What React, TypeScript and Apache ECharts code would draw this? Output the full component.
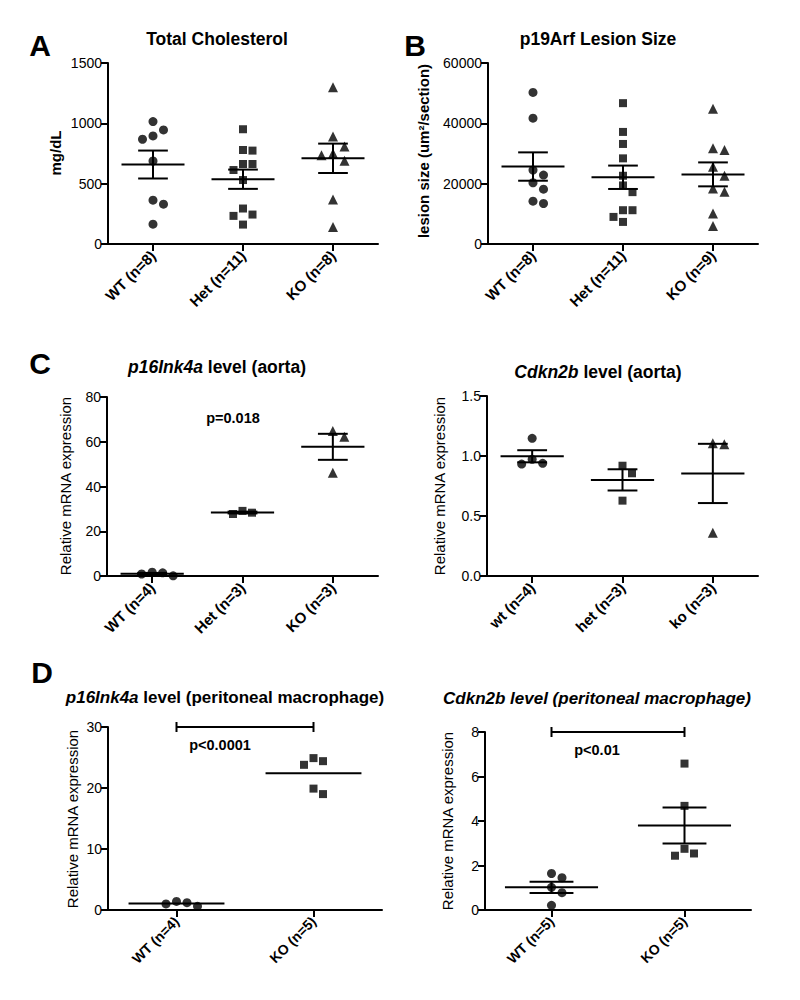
import React, { useEffect, useRef } from "react";
import * as echarts from "echarts";

const FONT = "'Liberation Sans', Arial, Helvetica, sans-serif";

// ---- Panel A: Total Cholesterol (mg/dL)
const catA = ["WT (n=8)", "Het (n=11)", "KO (n=8)"];
const cholWT = [1015, 945, 896, 868, 688, 363, 330, 164];
const cholHet = [951, 774, 779, 663, 663, 613, 530, 294, 244, 233, 161];
const cholKO = [1298, 890, 807, 751, 735, 690, 369, 141];

// ---- Panel B: p19Arf lesion size
const catB = ["WT (n=8)", "Het (n=11)", "KO (n=9)"];
const lesionWT = [50240, 41700, 24510, 22850, 20300, 18190, 14200, 13420];
const lesionHet = [46690, 37150, 33160, 28390, 22620, 19410, 17190, 11200, 11200, 8980, 7320];
const lesionKO = [44800, 31720, 31160, 25620, 22620, 18410, 17300, 10090, 5990];

// ---- Panel C left: p16Ink4a (aorta)
const catC1 = ["WT (n=4)", "Het (n=3)", "KO (n=3)"];
const p16AortaWT = [1.4, 0.1, 0.9, 1.7];
const p16AortaHet = [29.1, 27.7, 28.3];
const p16AortaKO = [64.8, 62.2, 46.2];

// ---- Panel C right: Cdkn2b (aorta)
const catC2 = ["wt (n=4)", "het (n=3)", "ko (n=3)"];
const cdknAortaWT = [1.147, 0.972, 0.933, 0.939];
const cdknAortaHet = [0.919, 0.856, 0.628];
const cdknAortaKO = [1.106, 1.097, 0.361];

// ---- Panel D left: p16Ink4a (peritoneal macrophage)
const catD1 = ["WT (n=4)", "KO (n=5)"];
const p16MacWT = [1.2, 0.6, 1.0, 1.4];
const p16MacKO = [24.4, 23.8, 24.9, 19.0, 19.9];

// ---- Panel D right: Cdkn2b (peritoneal macrophage)
const catD2 = ["WT (n=5)", "KO (n=5)"];
const cdknMacWT = [1.64, 1.45, 1.02, 0.78, 0.21];
const cdknMacKO = [6.58, 4.68, 2.75, 2.44, 2.54];

const SHAPES = ["circle", "rect", "triangle"];
const SIZES = [9, 8, 10];

const mean = (a: number[]) => a.reduce((s, v) => s + v, 0) / a.length;
const sem = (a: number[]) => {
  const m = mean(a);
  const v = a.reduce((s, x) => s + (x - m) * (x - m), 0) / (a.length - 1);
  return Math.sqrt(v) / Math.sqrt(a.length);
};

// simple beeswarm: spreads points whose markers would overlap
function swarm(values: number[], pxPerUnit: number, bandPx: number, size: number) {
  const order = values.map((v, i) => i).sort((a, b) => values[b] - values[a]);
  const placed: { dx: number; y: number }[] = [];
  const offs = new Array(values.length).fill(0);
  const thr = size + 1.5;
  order.forEach((i) => {
    const y = values[i] * pxPerUnit;
    for (let k = 0; k < 20; k++) {
      const step = k === 0 ? 0 : (k % 2 === 1 ? 1 : -1) * Math.ceil(k / 2);
      const dx = step * thr;
      const hit = placed.some((p) => Math.abs(p.dx - dx) < thr && Math.abs(p.y - y) < thr);
      if (!hit) {
        placed.push({ dx, y });
        offs[i] = dx / bandPx;
        break;
      }
    }
  });
  return offs;
}

const panels = [
  { grid: { left: 108, top: 63, width: 270, height: 181 }, cats: catA, groups: [cholWT, cholHet, cholKO], yMax: 1500, yStep: 500, showSem: true, labelSize: 15, fmt: (v: number) => String(v), bracket: false },
  { grid: { left: 488, top: 63, width: 270, height: 181 }, cats: catB, groups: [lesionWT, lesionHet, lesionKO], yMax: 60000, yStep: 20000, showSem: true, labelSize: 15, fmt: (v: number) => String(v), bracket: false },
  { grid: { left: 107, top: 397, width: 271, height: 179 }, cats: catC1, groups: [p16AortaWT, p16AortaHet, p16AortaKO], yMax: 80, yStep: 20, showSem: true, labelSize: 15, fmt: (v: number) => String(v), bracket: false },
  { grid: { left: 487, top: 396, width: 271, height: 180 }, cats: catC2, groups: [cdknAortaWT, cdknAortaHet, cdknAortaKO], yMax: 1.5, yStep: 0.5, showSem: true, labelSize: 15, fmt: (v: number) => v.toFixed(1), bracket: false },
  { grid: { left: 108, top: 727, width: 274, height: 183 }, cats: catD1, groups: [p16MacWT, p16MacKO], yMax: 30, yStep: 10, showSem: false, labelSize: 14, fmt: (v: number) => String(v), bracket: true },
  { grid: { left: 485, top: 732, width: 266, height: 178 }, cats: catD2, groups: [cdknMacWT, cdknMacKO], yMax: 8, yStep: 2, showSem: true, labelSize: 14, fmt: (v: number) => String(v), bracket: true },
];

function buildOption() {
  const grids: any[] = [];
  const xAxes: any[] = [];
  const yAxes: any[] = [];
  const series: any[] = [];

  panels.forEach((p, i) => {
    const n = p.cats.length;
    grids.push({ ...p.grid, containLabel: false });
    xAxes.push({
      type: "category",
      gridIndex: i,
      data: p.cats,
      boundaryGap: true,
      axisLine: { show: true, lineStyle: { color: "#000", width: 2 } },
      axisTick: { show: true, alignWithLabel: true, length: 7, lineStyle: { color: "#000", width: 2 } },
      axisLabel: { interval: 0, rotate: 45, fontWeight: "bold", fontSize: p.labelSize, color: "#000", margin: 9, fontFamily: FONT },
      splitLine: { show: false },
    });
    xAxes.push({ type: "value", gridIndex: i, min: 0, max: n, show: false });
    yAxes.push({
      type: "value",
      gridIndex: i,
      min: 0,
      max: p.yMax,
      interval: p.yStep,
      axisLine: { show: true, lineStyle: { color: "#000", width: 2 } },
      axisTick: { show: true, length: 7, lineStyle: { color: "#000", width: 2 } },
      axisLabel: { fontSize: 14, color: "#000", margin: 6, fontFamily: FONT, formatter: p.fmt },
      splitLine: { show: false },
    });

    const pxPerUnit = p.grid.height / p.yMax;
    const bandPx = p.grid.width / n;
    p.groups.forEach((vals, g) => {
      const offs = swarm(vals, pxPerUnit, bandPx, SIZES[g]);
      series.push({
        type: "scatter",
        xAxisIndex: 2 * i + 1,
        yAxisIndex: i,
        symbol: SHAPES[g],
        symbolSize: SIZES[g],
        itemStyle: { color: "#000" },
        data: vals.map((v, k) => [g + 0.5 + offs[k], v]),
        z: 3,
      });
    });

    const showSem = p.showSem;
    series.push({
      type: "custom",
      xAxisIndex: 2 * i + 1,
      yAxisIndex: i,
      encode: { x: 0, y: 1 },
      data: p.groups.map((vals, g) => [g + 0.5, mean(vals), sem(vals)]),
      renderItem: (params: any, api: any) => {
        const x = api.value(0);
        const m = api.value(1);
        const s = api.value(2);
        const c = api.coord([x, m]);
        const band = api.size([1, 0])[0];
        const hw = band * 0.35;
        const cw = band * 0.165;
        const st = { stroke: "#000", lineWidth: 2 };
        const children: any[] = [
          { type: "line", shape: { x1: c[0] - hw, y1: c[1], x2: c[0] + hw, y2: c[1] }, style: st },
        ];
        if (showSem) {
          const t = api.coord([x, m + s]);
          const b = api.coord([x, m - s]);
          children.push({ type: "line", shape: { x1: t[0] - cw, y1: t[1], x2: t[0] + cw, y2: t[1] }, style: st });
          children.push({ type: "line", shape: { x1: b[0] - cw, y1: b[1], x2: b[0] + cw, y2: b[1] }, style: st });
          children.push({ type: "line", shape: { x1: t[0], y1: t[1], x2: b[0], y2: b[1] }, style: st });
        }
        return { type: "group", children };
      },
      z: 4,
    });

    if (p.bracket) {
      series.push({
        type: "custom",
        xAxisIndex: 2 * i + 1,
        yAxisIndex: i,
        encode: { x: [0, 1], y: 2 },
        data: [[0.5, 1.5, p.yMax]],
        renderItem: (params: any, api: any) => {
          const a = api.coord([api.value(0), api.value(2)]);
          const b = api.coord([api.value(1), api.value(2)]);
          const st = { stroke: "#000", lineWidth: 2 };
          return {
            type: "group",
            children: [
              { type: "line", shape: { x1: a[0], y1: a[1], x2: b[0], y2: b[1] }, style: st },
              { type: "line", shape: { x1: a[0], y1: a[1] - 5, x2: a[0], y2: a[1] + 5 }, style: st },
              { type: "line", shape: { x1: b[0], y1: b[1] - 5, x2: b[0], y2: b[1] + 5 }, style: st },
            ],
          };
        },
        z: 4,
      });
    }
  });

  const text = (x: number, y: number, t: string, size: number, weight: string, extra: any = {}) => ({
    type: "text",
    x,
    y,
    ...extra,
    style: {
      text: t,
      fill: "#000",
      font: `${weight} ${size}px ${FONT}`,
      fontSize: size,
      fontWeight: weight,
      fontFamily: FONT,
      align: "center",
      verticalAlign: "middle",
      textAlign: "center",
      textVerticalAlign: "middle",
    },
  });

  const richTitle = (x: number, y: number, t: string, size: number) => ({
    type: "text",
    x,
    y,
    style: {
      text: t,
      fill: "#000",
      align: "center",
      verticalAlign: "middle",
      textAlign: "center",
      textVerticalAlign: "middle",
      rich: {
        i: { fontStyle: "italic", fontWeight: "bold", fontSize: size, fontFamily: FONT, fill: "#000", color: "#000" },
        b: { fontWeight: "bold", fontSize: size, fontFamily: FONT, fill: "#000", color: "#000" },
      },
    },
  });

  const rot = { rotation: Math.PI / 2 };
  const graphic: any[] = [
    text(40, 45, "A", 30, "bold"),
    text(415, 45, "B", 30, "bold"),
    text(40, 363, "C", 30, "bold"),
    text(42, 672, "D", 30, "bold"),
    text(217, 39, "Total Cholesterol", 17.5, "bold"),
    text(598, 39, "p19Arf Lesion Size", 17.5, "bold"),
    richTitle(217, 367, "{i|p16Ink4a}{b| level (aorta)}", 17.5),
    richTitle(598, 372, "{i|Cdkn2b}{b| level (aorta)}", 17.5),
    richTitle(225, 697, "{i|p16Ink4a}{b| level (peritoneal macrophage)}", 17),
    richTitle(597, 698, "{i|Cdkn2b level (peritoneal macrophage)}", 17),
    text(55, 153, "mg/dL", 15, "bold", rot),
    text(423, 151, "lesion size (um²/section)", 15, "bold", rot),
    text(65, 486, "Relative mRNA expression", 15, "normal", rot),
    text(439, 486, "Relative mRNA expression", 15, "normal", rot),
    text(72, 819, "Relative mRNA expression", 15, "normal", rot),
    text(447, 821, "Relative mRNA expression", 15, "normal", rot),
    text(233, 418, "p=0.018", 14.5, "bold"),
    text(220, 745, "p<0.0001", 14.5, "bold"),
    text(597, 750, "p<0.01", 14.5, "bold"),
  ];

  return {
    animation: false,
    backgroundColor: "#fff",
    textStyle: { fontFamily: FONT },
    grid: grids,
    xAxis: xAxes,
    yAxis: yAxes,
    series,
    graphic,
  };
}

export default function App() {
  const ref = useRef<HTMLDivElement>(null);
  useEffect(() => {
    document.body.style.margin = "0";
    if (!ref.current) return;
    const chart = echarts.init(ref.current, undefined, { renderer: "svg" });
    chart.setOption(buildOption() as any);
    return () => chart.dispose();
  }, []);
  return <div ref={ref} style={{ width: 800, height: 1000 }} />;
}
